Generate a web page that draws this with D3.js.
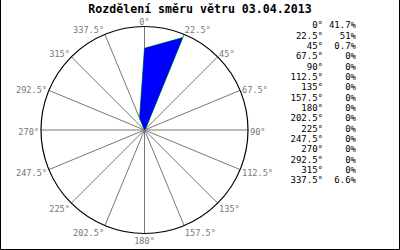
<!DOCTYPE html>
<meta charset="utf-8">
<style>
body { margin: 0; background: #fff; }
text { font-family: "DejaVu Sans Mono", monospace; }
</style>
<svg width="400" height="250"></svg>
<script src="https://d3js.org/d3.v7.min.js"></script>
<script>

var title = "Rozdělení směru větru 03.04.2013";
var angles = [0, 22.5, 45, 67.5, 90, 112.5, 135, 157.5, 180, 202.5, 225, 247.5, 270, 292.5, 315, 337.5];
var labels = ["0°", "22.5°", "45°", "67.5°", "90°", "112.5°", "135°", "157.5°", "180°", "202.5°", "225°", "247.5°", "270°", "292.5°", "315°", "337.5°"];
var values = [41.7, 51, 0.7, 0, 0, 0, 0, 0, 0, 0, 0, 0, 0, 0, 0, 6.6];

var svg = d3.select("svg"),
	width = +svg.attr("width"),
	height = +svg.attr("height");

var cx = 144.5, cy = 130, R = 103.5;

// frame
svg.append("path")
	.attr("d", "M0.5,0 V249.5 H399.5 V0")
	.attr("fill", "none")
	.attr("stroke", "#000");

svg.append("text")
	.attr("x", width / 2)
	.attr("y", 13)
	.attr("text-anchor", "middle")
	.style("font-size", "11.6px")
	.style("font-weight", "bold")
	.text(title);

var rad = function(d) { return d * Math.PI / 180; };

var r = d3.scaleLinear()
	.domain([0, d3.max(values)])
	.range([0, 100]);

var g = svg.append("g")
	.attr("transform", "translate(" + cx + "," + cy + ")");

// spokes
g.selectAll(".spoke")
	.data(angles)
	.enter().append("line")
	  .attr("class", "spoke")
	  .attr("x1", 0).attr("y1", 0)
	  .attr("x2", function(d) { return R * Math.sin(rad(d)); })
	  .attr("y2", function(d) { return -R * Math.cos(rad(d)); })
	  .attr("stroke", "#777")
	  .attr("stroke-width", 1);

g.append("circle")
	.attr("r", R)
	.attr("fill", "none")
	.attr("stroke", "#000")
	.attr("stroke-width", 1.2);

// data area
var area = d3.lineRadial()
	.angle(function(d, i) { return rad(angles[i]); })
	.radius(function(d) { return r(d); })
	.curve(d3.curveLinearClosed);

g.append("path")
	.attr("d", area(values))
	.attr("fill", "none")
	.attr("stroke", "#00c000")
	.attr("stroke-width", 1);

g.append("path")
	.attr("d", area(values))
	.attr("fill", "#0000ff");

// direction labels
g.selectAll(".lbl")
	.data(angles)
	.enter().append("text")
	  .attr("class", "lbl")
	  .attr("x", function(d) { return (R + 2) * Math.sin(rad(d)); })
	  .attr("y", function(d) { return 1.5 - (R + 6) * Math.cos(rad(d)); })
	  .attr("dy", "0.35em")
	  .attr("text-anchor", function(d) {
	  	var s = Math.sin(rad(d));
	  	return s > 0.01 ? "start" : (s < -0.01 ? "end" : "middle");
	  })
	  .attr("fill", "#777")
	  .style("font-size", "8.6px")
	  .text(function(d, i) { return labels[i]; });

// legend
var legend = svg.append("g");
var rowY = function(i) { return 25 + i * 10.35; };

legend.selectAll(".ldir")
	.data(labels)
	.enter().append("text")
	  .attr("x", 323)
	  .attr("y", function(d, i) { return rowY(i); })
	  .attr("dy", "0.35em")
	  .attr("text-anchor", "end")
	  .style("font-size", "9px")
	  .text(function(d) { return d; });

legend.selectAll(".lval")
	.data(values)
	.enter().append("text")
	  .attr("x", 356)
	  .attr("y", function(d, i) { return rowY(i); })
	  .attr("dy", "0.35em")
	  .attr("text-anchor", "end")
	  .style("font-size", "9px")
	  .text(function(d) { return d + "%"; });

</script>
